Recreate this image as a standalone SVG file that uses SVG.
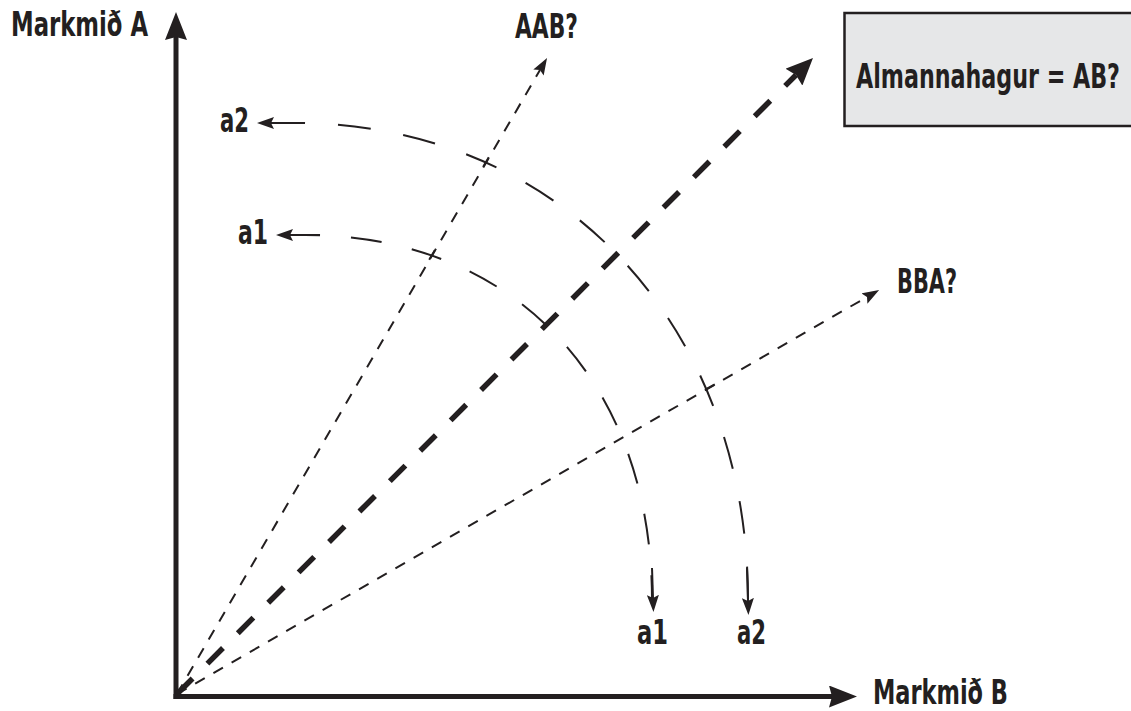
<svg xmlns="http://www.w3.org/2000/svg" width="1131" height="711" viewBox="0 0 1131 711">
  <style>
    .lbl { font-family: "Liberation Sans Narrow", "DejaVu Sans Condensed", "Liberation Sans", sans-serif; font-weight: bold; font-size: 33px; fill: #231f20; }
    .axis { stroke: #231f20; stroke-width: 5; fill: none; }
    .thin { stroke: #231f20; stroke-width: 2; fill: none; stroke-dasharray: 11 10; }
    .heavy { stroke: #231f20; stroke-width: 5.5; fill: none; stroke-dasharray: 22 21; }
    .arc { stroke: #231f20; stroke-width: 2; fill: none; }
    .shaft { stroke: #231f20; stroke-width: 2; fill: none; }
    .tick { stroke: #231f20; stroke-width: 2; }
  </style>
  <defs>
    <marker id="axisHead" viewBox="0 0 28 22" markerWidth="28" markerHeight="22" refX="3" refY="11" orient="auto" markerUnits="userSpaceOnUse">
      <path d="M0,0 L28,11 L0,22 L3,11 z" fill="#231f20"/>
    </marker>
    <marker id="heavyHead" viewBox="0 0 27 24" markerWidth="27" markerHeight="24" refX="3" refY="12" orient="auto" markerUnits="userSpaceOnUse">
      <path d="M0,0 L27,12 L0,24 L3,12 z" fill="#231f20"/>
    </marker>
    <marker id="thinHead" viewBox="0 0 17 12" markerWidth="17" markerHeight="12" refX="3" refY="6" orient="auto" markerUnits="userSpaceOnUse">
      <path d="M0,0 L17,6 L0,12 L3,6 z" fill="#231f20"/>
    </marker>
  </defs>

  <g id="box-almannahagur">
    <rect x="844.5" y="13" width="286.5" height="113" fill="#e6e7e8"/>
    <path d="M1131,13 H844.5 V126 H1131" fill="none" stroke="#231f20" stroke-width="2.5"/>
    <text class="lbl" x="856" y="88" textLength="264" lengthAdjust="spacingAndGlyphs">Almannahagur = AB?</text>
  </g>

  <g id="connectors">
    <!-- axes -->
    <line class="axis" x1="176" y1="699" x2="176" y2="37" marker-end="url(#axisHead)"/>
    <line class="axis" x1="173.5" y1="696.5" x2="832" y2="696.5" marker-end="url(#axisHead)"/>
    <!-- rays -->
    <line class="thin" x1="177" y1="694" x2="540" y2="70" marker-end="url(#thinHead)"/>
    <line class="thin" x1="177" y1="694" x2="867" y2="297" marker-end="url(#thinHead)"/>
    <line class="heavy" x1="177" y1="694" x2="796" y2="75" marker-end="url(#heavyHead)"/>
    <!-- arcs -->
    <path class="arc" d="M305,235 C513,235 652,381 652,600" stroke-dasharray="31 31" stroke-dashoffset="16"/>
    <path class="arc" d="M295,123 C558,123 748,323 748,600" stroke-dasharray="33 33" stroke-dashoffset="23"/>
    <!-- arc end arrows -->
    <line class="shaft" x1="305" y1="123" x2="271" y2="123" marker-end="url(#thinHead)"/>
    <line class="shaft" x1="320" y1="235" x2="290" y2="235" marker-end="url(#thinHead)"/>
    <line class="shaft" x1="652" y1="568" x2="653" y2="598" marker-end="url(#thinHead)"/>
    <line class="shaft" x1="747" y1="568" x2="748" y2="601" marker-end="url(#thinHead)"/>
    <!-- crossing ticks -->
    <line class="tick" x1="483.2" y1="166.8" x2="488.8" y2="157.2"/>
    <line class="tick" x1="429.2" y1="259.8" x2="434.8" y2="250.2"/>
    <line class="tick" x1="705.2" y1="389.7" x2="714.8" y2="384.3"/>
  </g>

  <g id="label-markmid-a"><text class="lbl" x="11" y="36" textLength="137" lengthAdjust="spacingAndGlyphs">Markmið A</text></g>
  <g id="label-markmid-b"><text class="lbl" x="873" y="704" textLength="135" lengthAdjust="spacingAndGlyphs">Markmið B</text></g>
  <g id="label-aab"><text class="lbl" x="515" y="38" textLength="63" lengthAdjust="spacingAndGlyphs">AAB?</text></g>
  <g id="label-bba"><text class="lbl" x="897" y="293" textLength="60" lengthAdjust="spacingAndGlyphs">BBA?</text></g>
  <g id="label-a2-left"><text class="lbl" x="220" y="132" textLength="29" lengthAdjust="spacingAndGlyphs">a2</text></g>
  <g id="label-a1-left"><text class="lbl" x="238" y="244" textLength="30" lengthAdjust="spacingAndGlyphs">a1</text></g>
  <g id="label-a1-bottom"><text class="lbl" x="637" y="644" textLength="31" lengthAdjust="spacingAndGlyphs">a1</text></g>
  <g id="label-a2-bottom"><text class="lbl" x="737" y="644" textLength="29" lengthAdjust="spacingAndGlyphs">a2</text></g>
</svg>
